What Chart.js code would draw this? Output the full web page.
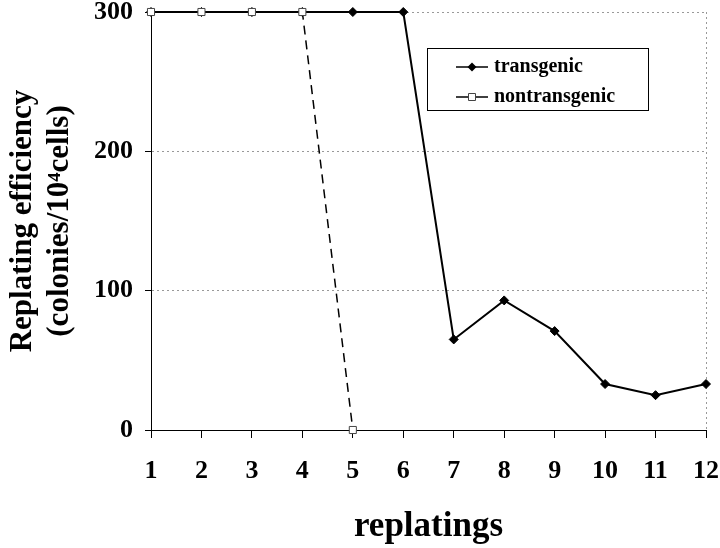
<!DOCTYPE html>
<html>
<head>
<meta charset="utf-8">
<script src="https://cdn.jsdelivr.net/npm/chart.js@4/dist/chart.umd.min.js"></script>
<style>
  html, body { margin: 0; padding: 0; background: #fff; }
  #wrap { width: 720px; height: 548px; }
</style>
</head>
<body>
<div id="wrap"><canvas id="replatingChart" width="720" height="548"></canvas></div>
<script>
// chart data
const replatings = ['1', '2', '3', '4', '5', '6', '7', '8', '9', '10', '11', '12'];
const transgenic = [300, 300, 300, 300, 300, 300, 65, 93, 71, 33, 25, 33];
const nontransgenic = [300, 300, 300, 300, 0, null, null, null, null, null, null, null];
const yTicks = [0, 100, 200, 300];

const serif = "'Liberation Serif', 'Times New Roman', serif";

// legend drawn as a framed box inside the plot, line + marker like the original
const boxLegend = {
    id: 'boxLegend',
    afterDraw(chart) {
        const ctx = chart.ctx;
        const x0 = 427, y0 = 48, w = 221, h = 62;
        ctx.save();
        ctx.fillStyle = '#fff';
        ctx.fillRect(x0, y0, w, h);
        ctx.strokeStyle = '#000';
        ctx.lineWidth = 1;
        ctx.strokeRect(x0 + 0.5, y0 + 0.5, w, h);

        const rows = [chart.data.datasets[1], chart.data.datasets[0]];
        rows.forEach(function(ds, i) {
            const y = 67 + i * 30;
            ctx.beginPath();
            ctx.strokeStyle = '#000';
            ctx.lineWidth = 1.5;
            ctx.setLineDash([]);
            ctx.moveTo(456, y);
            ctx.lineTo(488, y);
            ctx.stroke();
            ctx.beginPath();
            if (ds.pointStyle === 'rectRot') {
                ctx.moveTo(472, y - 4.5);
                ctx.lineTo(476.5, y);
                ctx.lineTo(472, y + 4.5);
                ctx.lineTo(467.5, y);
                ctx.closePath();
                ctx.fillStyle = '#000';
                ctx.fill();
            } else {
                ctx.rect(468.5, y - 3.5, 7, 7);
                ctx.fillStyle = '#fff';
                ctx.fill();
                ctx.strokeStyle = '#444';
                ctx.lineWidth = 1;
                ctx.stroke();
            }
            ctx.fillStyle = '#000';
            ctx.font = 'bold 20px ' + serif;
            ctx.textBaseline = 'middle';
            ctx.fillText(ds.label, 494, y);
        });
        ctx.restore();
    }
};

new Chart(document.getElementById('replatingChart').getContext('2d'), {
    type: 'line',
    data: {
        labels: replatings,
        datasets: [{
            label: 'nontransgenic',
            data: nontransgenic,
            borderColor: '#000',
            borderWidth: 1.5,
            borderDash: [9, 6],
            pointStyle: 'rect',
            pointRadius: 5,
            pointBackgroundColor: '#fff',
            pointBorderColor: '#444',
            pointBorderWidth: 1,
            spanGaps: false,
            clip: false
        }, {
            label: 'transgenic',
            data: transgenic,
            borderColor: '#000',
            borderWidth: 2,
            pointStyle: 'rectRot',
            pointRadius: 4.5,
            pointBackgroundColor: '#000',
            pointBorderColor: '#000',
            pointBorderWidth: 1,
            clip: false
        }]
    },
    options: {
        responsive: false,
        animation: false,
        events: [],
        layout: { padding: { left: 0, right: 14, top: 12, bottom: 0 } },
        plugins: {
            legend: { display: false },
            tooltip: { enabled: false }
        },
        scales: {
            x: {
                offset: false,
                afterFit: function(scale) {
                    scale.height = 118;
                    scale.paddingLeft = 0;
                    scale.paddingRight = 0;
                },
                grid: {
                    offset: false,
                    color: function(c) { return c.index === replatings.length - 1 ? '#999' : 'transparent'; },
                    tickColor: '#000',
                    tickLength: 8,
                    lineWidth: 1
                },
                border: { display: true, color: '#000', width: 1, dash: [2, 3] },
                ticks: {
                    color: '#000',
                    font: { family: serif, size: 26, weight: 'bold' },
                    padding: 18,
                    maxRotation: 0,
                    autoSkip: false
                },
                title: {
                    display: true,
                    text: 'replatings',
                    color: '#000',
                    font: { family: serif, size: 35, weight: 'bold' },
                    padding: { top: 10, bottom: 0 }
                }
            },
            y: {
                min: 0,
                max: 300,
                afterFit: function(scale) {
                    scale.width = 151;
                    scale.paddingTop = 0;
                    scale.paddingBottom = 0;
                },
                afterBuildTicks: function(scale) {
                    scale.ticks = yTicks.map(function(v) { return { value: v }; });
                },
                grid: {
                    color: '#999',
                    tickColor: '#000',
                    tickLength: 6,
                    lineWidth: 1
                },
                border: { display: true, color: '#000', width: 1, dash: [2, 3] },
                ticks: {
                    color: '#000',
                    font: { family: serif, size: 26, weight: 'bold' },
                    padding: 12
                },
                title: {
                    display: true,
                    text: ['Replating efficiency', '(colonies/10\u2074cells)'],
                    color: '#000',
                    font: { family: serif, size: 31, weight: 'bold', lineHeight: 1.2 },
                    padding: { top: 4, bottom: 0 }
                }
            }
        }
    },
    plugins: [boxLegend]
});
</script>
</body>
</html>
